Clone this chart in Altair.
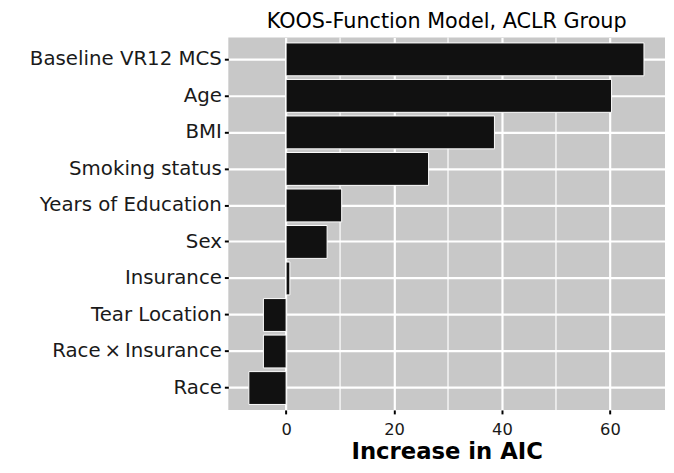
import altair as alt
import pandas as pd

categories = ["Baseline VR12 MCS", "Age", "BMI", "Smoking status", "Years of Education",
              "Sex", "Insurance", "Tear Location", "Race\u2009\u00d7\u2009Insurance", "Race"]
values = [66.3, 60.3, 38.6, 26.4, 10.3, 7.6, 0.7, -4.2, -4.2, -6.9]
x_ticks = [0, 20, 40, 60]
minor_grid = [10, 30, 50]

df = pd.DataFrame({"cat": categories, "val": values})
minor_df = pd.DataFrame({"v": minor_grid})

FONT = "DejaVu Sans"
xscale = alt.Scale(domain=[-10.7, 70.2], nice=False, zero=False)
yscale = alt.Scale(domain=categories, paddingInner=0.1, paddingOuter=0.15)

minor = alt.Chart(minor_df).mark_rule(color="white", strokeWidth=1.2).encode(
    x=alt.X("v:Q", scale=xscale)
)

bars = alt.Chart(df).mark_bar(color="#111111", stroke="white", strokeWidth=1).encode(
    x=alt.X("val:Q", scale=xscale,
            axis=alt.Axis(values=x_ticks, title="Increase in AIC", grid=True,
                          gridColor="white", gridWidth=2.2, tickColor="black",
                          tickSize=4, tickWidth=2, domain=False, labelFontSize=16.5,
                          labelColor="#1a1a1a", labelFont=FONT, labelPadding=8,
                          titleFont=FONT, titleFontSize=23, titleFontWeight="bold",
                          titleColor="black", titlePadding=3)),
    x2=alt.X2(datum=0),
    y=alt.Y("cat:N", scale=yscale, sort=categories,
            axis=alt.Axis(title=None, grid=True, gridColor="white", gridWidth=2.2,
                          bandPosition=0.5, tickColor="black", tickSize=4, tickWidth=2,
                          domain=False, labelFontSize=20, labelColor="#1a1a1a",
                          labelFont=FONT, labelPadding=3, labelLimit=400)),
)

chart = alt.layer(minor, bars).properties(
    width=442, height=377,
    autosize=alt.AutoSizeParams(type="none"),
    padding={"left": 223, "top": 27, "right": 1, "bottom": 61},
    title=alt.TitleParams("KOOS-Function Model, ACLR Group", font=FONT, fontSize=21,
                          fontWeight="normal", color="black", anchor="middle", offset=5),
).configure_view(fill="#c8c8c8", stroke=None)

chart.save("out.html", embed_options={"renderer": "svg", "actions": False})
